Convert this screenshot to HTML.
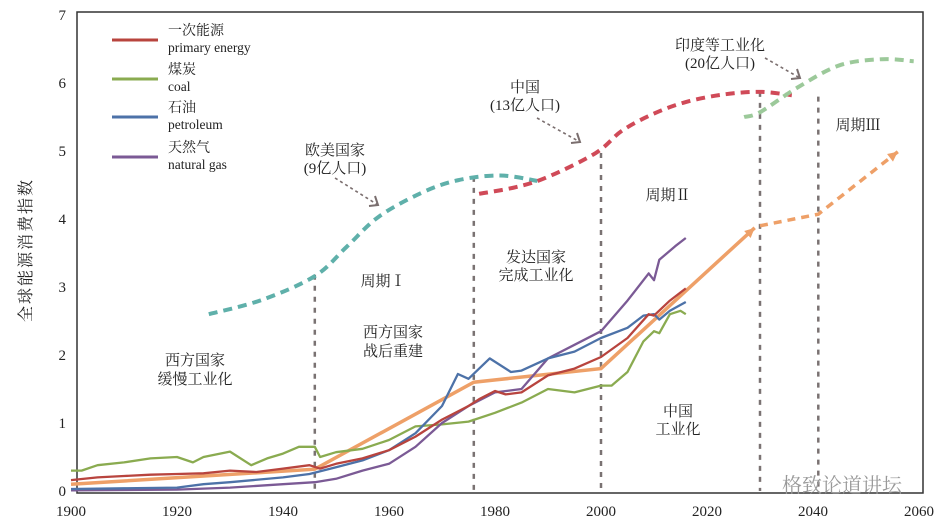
<!DOCTYPE html>
<html><head><meta charset="utf-8">
<style>
html,body{margin:0;padding:0;background:#fff;}
svg{display:block;}
text{font-family:"Liberation Serif","Noto Serif CJK SC",serif;fill:#222;}
</style></head>
<body>
<svg id="chart" width="948" height="528" viewBox="0 0 948 528" xmlns="http://www.w3.org/2000/svg">
<g id="axes"></g>
<g id="marks"></g>
<g id="annots"></g>
</svg>
<script>
const xTicks=[1900,1920,1940,1960,1980,2000,2020,2040,2060];
const yTicks=[0,1,2,3,4,5,6,7];
const primaryYears=[1900,1905,1910,1915,1920,1925,1930,1935,1940,1945,1947,1950,1955,1960,1965,1970,1975,1977,1980,1982,1985,1990,1995,2000,2005,2009,2010,2013,2016];
const primaryVals=[0.16,0.2,0.22,0.24,0.25,0.26,0.3,0.28,0.33,0.38,0.33,0.4,0.48,0.6,0.8,1.05,1.25,1.35,1.47,1.42,1.45,1.7,1.8,1.97,2.25,2.6,2.58,2.8,2.98];
const coalYears=[1900,1902,1905,1910,1915,1920,1923,1925,1930,1934,1937,1940,1943,1946,1947,1950,1955,1960,1965,1970,1975,1980,1985,1990,1995,2000,2002,2005,2008,2010,2011,2013,2015,2016];
const coalVals=[0.3,0.3,0.38,0.42,0.48,0.5,0.42,0.5,0.58,0.38,0.48,0.55,0.65,0.65,0.5,0.57,0.62,0.75,0.95,0.98,1.02,1.15,1.3,1.5,1.45,1.55,1.55,1.75,2.2,2.35,2.32,2.6,2.65,2.6];
const oilYears=[1900,1910,1920,1925,1930,1940,1945,1950,1955,1960,1965,1970,1973,1975,1979,1983,1985,1990,1995,2000,2005,2008,2010,2011,2013,2016];
const oilVals=[0.03,0.04,0.05,0.1,0.13,0.2,0.25,0.35,0.45,0.6,0.85,1.25,1.72,1.65,1.95,1.75,1.77,1.95,2.05,2.25,2.4,2.58,2.6,2.52,2.65,2.78];
const gasYears=[1900,1920,1930,1940,1946,1950,1955,1960,1965,1970,1975,1980,1985,1990,1995,2000,2005,2009,2010,2011,2014,2016];
const gasVals=[0.01,0.02,0.05,0.1,0.13,0.18,0.3,0.4,0.65,1.0,1.25,1.45,1.5,1.95,2.15,2.35,2.8,3.2,3.1,3.4,3.6,3.72];
const trendYears=[1900,1946,1976,2000,2029];
const trendVals=[0.1,0.32,1.6,1.8,3.87];
const trendFutureYears=[2030,2041,2056];
const trendFutureVals=[3.9,4.07,4.99];
const westYears=[1926,1936,1946,1952,1958,1966,1973,1981,1988];
const westVals=[2.6,2.81,3.16,3.59,4.03,4.38,4.57,4.64,4.56];
const chinaYears=[1977,1984,1990,1999,2004,2010,2016,2023,2030,2036];
const chinaVals=[4.37,4.47,4.62,4.97,5.3,5.55,5.72,5.83,5.87,5.82];
const indiaYears=[2027,2030,2037,2045,2053,2059];
const indiaVals=[5.5,5.57,5.93,6.26,6.35,6.32];
const periodYears=[1946,1976,2000,2030,2041];
const periodTops=[3.18,4.62,4.97,5.87,5.8];

const X=y=>71+(y-1900)*5.3;
const Y=v=>491-v*68;
const NS='http://www.w3.org/2000/svg';
function mk(tag,attrs,parent){const e=document.createElementNS(NS,tag);for(const k in attrs)e.setAttribute(k,attrs[k]);parent.appendChild(e);return e;}
const axes=document.getElementById('axes'),marks=document.getElementById('marks'),ann=document.getElementById('annots');

const frame=mk('rect',{x:77,y:12,width:846,height:481,fill:'none',stroke:'#333','stroke-width':1.5},axes);


xTicks.forEach(t=>{
  const tx=mk('text',{x:X(t),y:516,'text-anchor':'middle','font-size':15},axes);tx.textContent=t;
  
  
});
yTicks.forEach(t=>{
  const tx=mk('text',{x:66,y:Y(t)+5,'text-anchor':'end','font-size':15},axes);tx.textContent=t;
  
  
});
const yt=mk('text',{x:0,y:0,'text-anchor':'middle','font-size':16,transform:'translate(31,250) rotate(-90)','letter-spacing':'2'},axes);
yt.textContent='全球能源消费指数';



function pts(ys,vs){return ys.map((y,i)=>X(y).toFixed(1)+','+Y(vs[i]).toFixed(1)).join(' ');}
function smooth(ys,vs){
  const p=ys.map((y,i)=>[X(y),Y(vs[i])]);let d='M'+p[0][0]+','+p[0][1];
  for(let i=0;i<p.length-1;i++){const p0=p[i-1]||p[i],p1=p[i],p2=p[i+1],p3=p[i+2]||p2;
    d+=' C'+(p1[0]+(p2[0]-p0[0])/6)+','+(p1[1]+(p2[1]-p0[1])/6)+' '+(p2[0]-(p3[0]-p1[0])/6)+','+(p2[1]-(p3[1]-p1[1])/6)+' '+p2[0]+','+p2[1];}
  return d;}

periodYears.forEach((y,i)=>{
  const l=mk('line',{x1:X(y),x2:X(y),y1:Y(periodTops[i]),y2:491,stroke:'#7a7272','stroke-width':2.5,'stroke-dasharray':'5,6'},marks);
  
  
});
[[westYears,westVals,'#5fb0aa','west-forecast-curve'],[chinaYears,chinaVals,'#d04a58','china-forecast-curve'],[indiaYears,indiaVals,'#9cc99a','india-forecast-curve']].forEach(s=>{
  const p=mk('path',{d:smooth(s[0],s[1]),fill:'none',stroke:s[2],'stroke-width':4,'stroke-dasharray':'9,6'},marks);
  
  
});
const tr=mk('polyline',{points:pts(trendYears,trendVals),fill:'none',stroke:'#eea068','stroke-width':3.5},marks);


const tf=mk('polyline',{points:pts(trendFutureYears,trendFutureVals),fill:'none',stroke:'#eea068','stroke-width':3.5,'stroke-dasharray':'8,6'},marks);


function arrowHead(x1,y1,x2,y2,color,name){
  const a=Math.atan2(y2-y1,x2-x1),L=11,w=0.45;
  const pts2=[[x2,y2],[x2-L*Math.cos(a-w),y2-L*Math.sin(a-w)],[x2-L*Math.cos(a+w),y2-L*Math.sin(a+w)]];
  const h=mk('polygon',{points:pts2.map(p=>p.join(',')).join(' '),fill:color},marks);
  
  
}
arrowHead(X(trendYears[3]),Y(trendVals[3]),X(trendYears[4]),Y(trendVals[4]),'#eea068','trend-arrowhead');
const n=trendFutureYears.length;
arrowHead(X(trendFutureYears[n-2]),Y(trendFutureVals[n-2]),X(trendFutureYears[n-1]),Y(trendFutureVals[n-1]),'#eea068','forecast-arrowhead');

[[coalYears,coalVals,'#8aab50','coal-line'],[gasYears,gasVals,'#7b5a95','natural-gas-line'],[oilYears,oilVals,'#4d72a8','petroleum-line'],[primaryYears,primaryVals,'#b8443e','primary-energy-line']].forEach(s=>{
  const p=mk('polyline',{points:pts(s[0],s[1]),fill:'none',stroke:s[2],'stroke-width':2.3,'stroke-linejoin':'round'},marks);
  
  
});

const leg=[['一次能源','primary energy','#b8443e',40],['煤炭','coal','#8aab50',79],['石油','petroleum','#4d72a8',117],['天然气','natural gas','#7b5a95',157]];
leg.forEach(l=>{
  const ln=mk('line',{x1:112,x2:158,y1:l[3],y2:l[3],stroke:l[2],'stroke-width':3},ann);
  
  
  const t1=mk('text',{x:168,y:l[3]-5,'font-size':14},ann);t1.textContent=l[0];
  
  
  const t2=mk('text',{x:168,y:l[3]+12,'font-size':13.5},ann);t2.textContent=l[1];
  
  
});
const labels=[['欧美国家',335,155],['(9亿人口)',335,173],['中国',525,92],['(13亿人口)',525,110],['印度等工业化',720,50],['(20亿人口)',720,68],
['周期Ⅰ',383,286],['周期Ⅱ',668,200],['周期Ⅲ',858,130],['发达国家',536,262],['完成工业化',536,280],['西方国家',393,337],['战后重建',393,356],
['西方国家',195,365],['缓慢工业化',195,384],['中国',678,416],['工业化',678,434]];
labels.forEach(l=>{
  const t=mk('text',{x:l[1],y:l[2],'text-anchor':'middle','font-size':15},ann);t.textContent=l[0];
  
  
});
[[335,178,378,205],[537,118,580,142],[765,58,800,78]].forEach(a=>{
  const l=mk('line',{x1:a[0],y1:a[1],x2:a[2],y2:a[3],stroke:'#7a6e6e','stroke-width':1.6,'stroke-dasharray':'3,3'},ann);
  
  
  const p=mk('polyline',{points:(a[2]-9)+','+(a[3]+1)+' '+a[2]+','+a[3]+' '+(a[2]-3)+','+(a[3]-9),fill:'none',stroke:'#7a6e6e','stroke-width':2},ann);
  
  
});
const wm=mk('text',{x:782,y:492,'font-size':20,style:'fill:#999'},ann);wm.textContent='格致论道讲坛';


</script>
</body></html>
